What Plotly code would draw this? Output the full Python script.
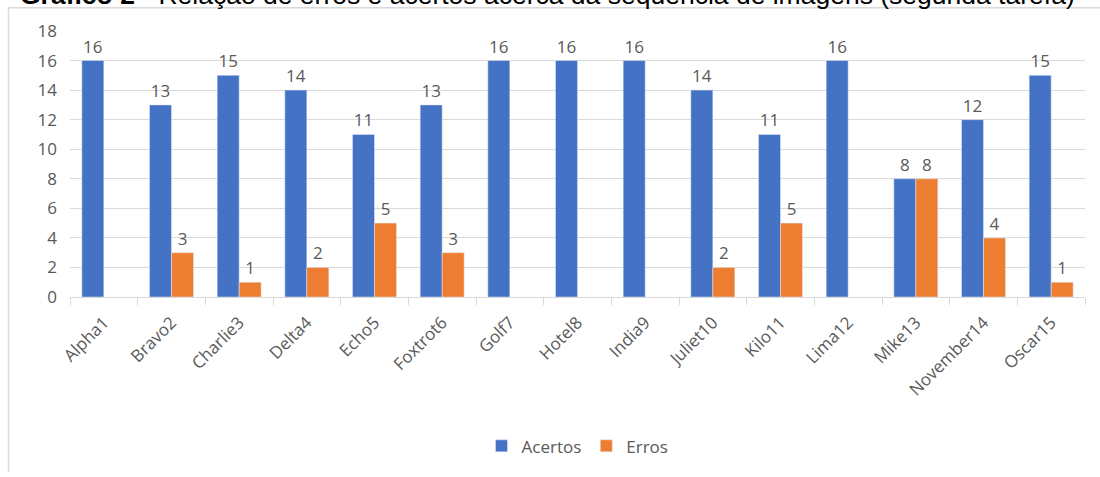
import plotly.graph_objects as go

categories = ["Alpha1", "Bravo2", "Charlie3", "Delta4", "Echo5", "Foxtrot6", "Golf7", "Hotel8",
              "India9", "Juliet10", "Kilo11", "Lima12", "Mike13", "November14", "Oscar15"]
acertos = [16, 13, 15, 14, 11, 13, 16, 16, 16, 14, 11, 16, 8, 12, 15]
erros = [None, 3, 1, 2, 5, 3, None, None, None, 2, 5, None, 8, 4, 1]
y_ticks = [0, 2, 4, 6, 8, 10, 12, 14, 16, 18]
title_text = "<b>Gráfico 2</b> - Relação de erros e acertos acerca da sequência de imagens (segunda tarefa)"

W, H = 1100, 477
ML, MR, MT, MB = 70, 15, 31, 177
PW = W - ML - MR
PH = H - MT - MB

FONT = "Open Sans"
GRAY = "#595959"
GRID = "#d9d9d9"
FS = 17

fig = go.Figure()
fig.add_trace(go.Bar(
    x=categories, y=acertos, name="Acertos", marker_color="#4472C4",
    text=acertos, textposition="outside", cliponaxis=False,
    textfont=dict(family=FONT, size=FS, color=GRAY),
))
fig.add_trace(go.Bar(
    x=categories, y=erros, name="Erros", marker_color="#ED7D31",
    text=erros, textposition="outside", cliponaxis=False,
    textfont=dict(family=FONT, size=FS, color=GRAY),
))

def px_x(p):
    return (p - ML) / PW

def px_y(p):
    return (H - MB - p) / PH

fig.update_layout(
    width=W, height=H,
    margin=dict(l=ML, r=MR, t=MT, b=MB),
    paper_bgcolor="white", plot_bgcolor="white",
    barmode="group", bargap=0.35, bargroupgap=0,
    font=dict(family=FONT, size=FS, color=GRAY),
    showlegend=True,
    legend=dict(orientation="h", x=0.5, xanchor="center", y=px_y(451), yanchor="middle",
                font=dict(family=FONT, size=FS, color=GRAY), traceorder="normal"),
    xaxis=dict(
        showgrid=False, showline=True, linecolor=GRID, linewidth=1,
        ticks="outside", tickson="boundaries", ticklen=7, tickcolor=GRID,
        tickangle=-45, ticklabelstandoff=8, tickfont=dict(family=FONT, size=FS, color=GRAY),
    ),
    yaxis=dict(
        range=[0, 18], tickvals=y_ticks, showgrid=True, gridcolor=GRID, gridwidth=1,
        zeroline=False, showline=False, ticks="", ticklabelstandoff=12,
        tickfont=dict(family=FONT, size=FS, color=GRAY),
    ),
    annotations=[dict(
        text=title_text, xref="paper", yref="paper", x=px_x(18), y=px_y(-5),
        xanchor="left", yanchor="middle", showarrow=False,
        font=dict(family="Liberation Sans", size=26.5, color="black"),
    )],
    shapes=[
        dict(type="line", xref="paper", yref="paper", x0=px_x(8.5), x1=px_x(1100),
             y0=px_y(7.5), y1=px_y(7.5), line=dict(color=GRID, width=1.5)),
        dict(type="line", xref="paper", yref="paper", x0=px_x(8.5), x1=px_x(8.5),
             y0=px_y(7.5), y1=px_y(477), line=dict(color=GRID, width=1.5)),
    ],
)

fig.write_html("out.html")
